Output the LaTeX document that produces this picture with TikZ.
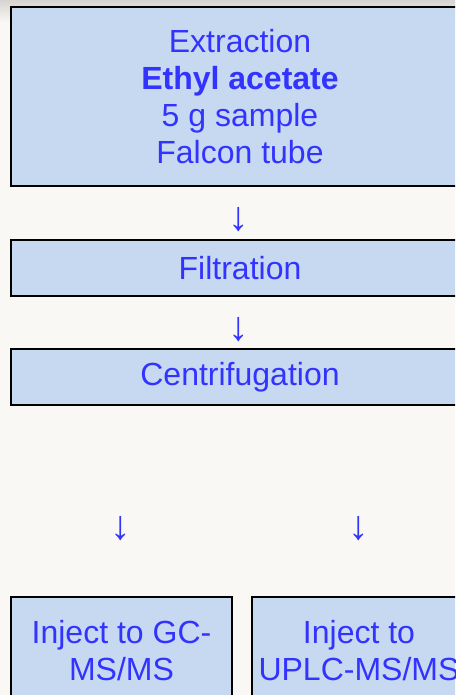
\documentclass[tikz,border=0pt]{standalone}
\usepackage{fontspec}
\setmainfont{Liberation Sans}
\usetikzlibrary{calc}
\definecolor{stepfill}{HTML}{C6D9F0}
\definecolor{steptext}{HTML}{3333FF}
\definecolor{pagebg}{HTML}{F9F8F5}
\definecolor{pagetop}{HTML}{D6D3D0}
\begin{document}
\begin{tikzpicture}[x=1pt,y=-1pt,
  stepbox/.style={draw=black,line width=2pt,fill=stepfill,text=steptext,
    font=\fontsize{32}{37}\selectfont,align=center,inner sep=0pt},
  flowarrow/.style={text=steptext,font=\fontsize{41}{41}\selectfont,inner sep=0pt}]
\useasboundingbox (0,0) rectangle (455,695);
\clip (0,0) rectangle (455,695);
% page background
\fill[pagebg] (0,0) rectangle (455,695);
\shade[top color=pagetop,bottom color=pagebg] (0,0) rectangle (455,22);
% process steps
\node[stepbox,minimum width=458pt,minimum height=179pt] (extr) at (240,96.5)
  {Extraction\\\textbf{Ethyl acetate}\\5 g sample\\Falcon tube};
\node[stepbox,minimum width=458pt,minimum height=56pt] (filt) at (240,268)
  {\raisebox{-1.5pt}{Filtration}};
\node[stepbox,minimum width=458pt,minimum height=56pt] (cent) at (240,377)
  {\raisebox{-2pt}{Centrifugation}};
\node[stepbox,minimum width=221pt,minimum height=108pt] (gc) at (121.5,651)
  {Inject to GC-\\MS/MS};
\node[stepbox,minimum width=214pt,minimum height=108pt] (uplc) at (359,651)
  {Inject to\\UPLC-MS/MS};
% arrows between steps
\node[flowarrow] (a1) at ($(extr.south)!0.5!(filt.north)+(-1,7)$) {↓};
\node[flowarrow] (a2) at ($(filt.south)!0.5!(cent.north)+(-1,7)$) {↓};
\node[flowarrow] (a3) at (121,529) {↓};
\node[flowarrow] (a4) at (359,529) {↓};
\end{tikzpicture}
\end{document}
